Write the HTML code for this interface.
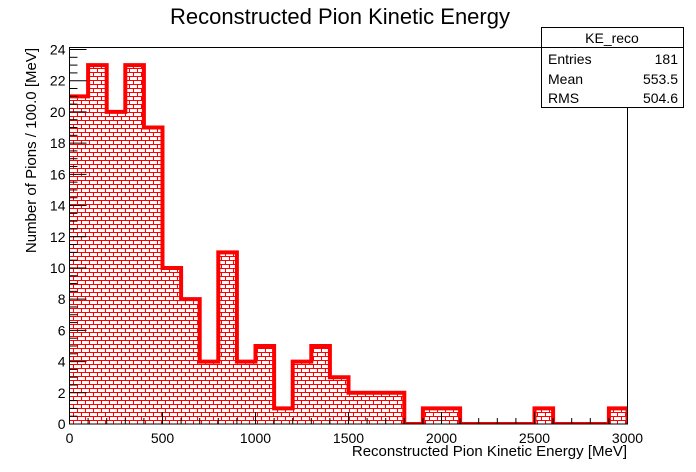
<!DOCTYPE html>
<html><head><meta charset="utf-8"><style>
body{margin:0;background:#fff;}
svg{display:block;font-family:"Liberation Sans",sans-serif;}
</style></head><body>
<svg id="c" width="696" height="472">
<defs>
<pattern id="brick" width="8" height="8" patternUnits="userSpaceOnUse" x="69" y="0">
<rect width="8" height="8" fill="#fff"/>
<path d="M0 0.5H8M0 4.5H8M0.5 0V4.5M4.5 4.5V8" stroke="#f00" stroke-width="1"/>
</pattern>
<clipPath id="pc"><rect x="69.5" y="47.5" width="558" height="376.5"/></clipPath>
</defs>
<rect x="0" y="0" width="696" height="472" fill="#fff"/>
<text x="340" y="24" font-size="22" text-anchor="middle">Reconstructed Pion Kinetic Energy</text>
<g id="plot" clip-path="url(#pc)"></g>
<rect x="69.5" y="47.5" width="558" height="376.5" fill="none" stroke="#000"/>
<g id="axes"></g>
<text x="627" y="456" font-size="15" text-anchor="end">Reconstructed Pion Kinetic Energy [MeV]</text>
<text transform="translate(36,48) rotate(-90)" font-size="15" text-anchor="end">Number of Pions / 100.0 [MeV]</text>
<g>
<rect x="541.5" y="27.5" width="142" height="80" fill="#fff" stroke="#000"/>
<line x1="541.5" y1="47.5" x2="683.5" y2="47.5" stroke="#000"/>
<text x="612" y="43" font-size="14" text-anchor="middle">KE_reco</text>
<text x="548" y="64" font-size="14">Entries</text><text x="678" y="64" font-size="14" text-anchor="end">181</text>
<text x="548" y="84" font-size="14">Mean</text><text x="678" y="84" font-size="14" text-anchor="end">553.5</text>
<text x="548" y="103" font-size="14">RMS</text><text x="678" y="103" font-size="14" text-anchor="end">504.6</text>
</g>
</svg>
<script>
const binEdgesStart = 0;
const binWidth = 100;
const counts = [21,23,20,23,19,10,8,4,11,4,5,1,4,5,3,2,2,2,0,1,1,0,0,0,0,1,0,0,0,1];
const xTicks = [0,500,1000,1500,2000,2500,3000];
const yTicks = [0,2,4,6,8,10,12,14,16,18,20,22,24];
const NS="http://www.w3.org/2000/svg";
const X0=69.5,X1=627.5,Y0=424,Y24=49.5;
const xs=v=>X0+(v-0)/3000*(X1-X0);
const ys=v=>Y0-v*(Y0-Y24)/24;
const plot=document.getElementById('plot'), axes=document.getElementById('axes');
function mk(tag,attrs,parent){const e=document.createElementNS(NS,tag);for(const k in attrs)e.setAttribute(k,attrs[k]);parent.appendChild(e);return e;}
let d=`M${xs(0)} ${ys(0)}`;
counts.forEach((c,i)=>{const a=binEdgesStart+i*binWidth;d+=` L${xs(a)} ${ys(c)} L${xs(a+binWidth)} ${ys(c)}`;});
d+=` L${xs(binEdgesStart+counts.length*binWidth)} ${ys(0)} Z`;
const fill=mk('path',{d:d,fill:'url(#brick)',stroke:'none'},plot);


let od='';
counts.forEach((c,i)=>{const a=binEdgesStart+i*binWidth;od+=(i===0?'M':' L')+`${xs(a)} ${ys(c)} L${xs(a+binWidth)} ${ys(c)}`;});
od+=` L${xs(binEdgesStart+counts.length*binWidth)} ${ys(0)}`;
const line=mk('path',{d:od,fill:'none',stroke:'#f00','stroke-width':4,'stroke-linejoin':'miter'},plot);


for(let v=0;v<=3000;v+=100){const maj=v%500===0;mk('line',{x1:xs(v),x2:xs(v),y1:Y0,y2:Y0-(maj?12:6),stroke:'#000'},axes);}
xTicks.forEach(v=>{const t=mk('text',{x:xs(v),y:Y0+19,'font-size':14,'text-anchor':'middle'},axes);t.textContent=v;

});
for(let v=0;v<=24;v+=1){const maj=v%2===0;mk('line',{x1:X0,x2:X0+(maj?17:8),y1:ys(v),y2:ys(v),stroke:'#000'},axes);}
for(let v=0.5;v<24;v+=1){mk('line',{x1:X0,x2:X0+8,y1:ys(v),y2:ys(v),stroke:'#000'},axes);}
yTicks.forEach(v=>{const t=mk('text',{x:X0-4,y:ys(v)+5,'font-size':14,'text-anchor':'end'},axes);t.textContent=v;

});
</script>
</body></html>
